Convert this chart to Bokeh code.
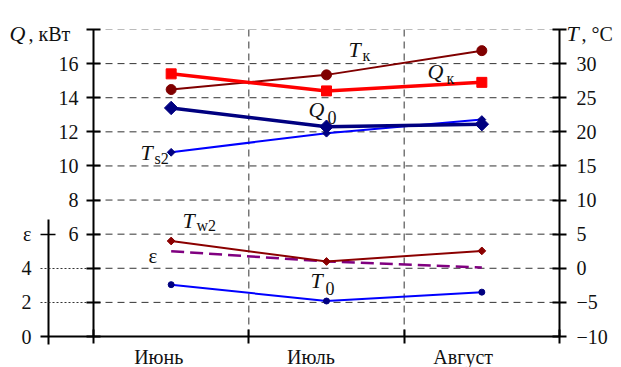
import math
from bokeh.plotting import figure
from bokeh.models import Range1d, LinearAxis, FixedTicker, Label
from bokeh.embed import file_html
from bokeh.resources import INLINE

# ---- data ----
months = ["Июнь", "Июль", "Август"]
month_pos = [0.5, 1.5, 2.5]
Q_k = [15.4, 14.4, 14.9]      # кВт
Q_0 = [13.4, 12.3, 12.45]     # кВт
T_k = [26.2, 28.35, 31.9]     # °C
T_s2 = [17.0, 19.8, 21.8]     # °C
T_w2 = [4.0, 1.0, 2.55]       # °C
T_0 = [-2.4, -4.8, -3.5]      # °C
eps = [5.0, 4.4, 4.05]
q_ticks = [0, 2, 4, 6, 8, 10, 12, 14, 16, 18]
t_ticks = [-10, -5, 0, 5, 10, 15, 20, 25, 30, 35]
eps_ticks = [0, 2, 4, 6]

# ---- layout constants ----
FONT = "Liberation Serif"
TICK_FS = "20px"
W, H = 621, 367
PX = 466 / 3            # pixels per month band
QPX = 307 / 18          # pixels per kW
FRAME_BOTTOM = 336      # pixel row of Q = 0
X_LEFT = -93 / PX
X_RIGHT = (W - 93) / PX
Q_TOP = FRAME_BOTTOM / QPX
Q_BOTTOM = -(H - FRAME_BOTTOM) / QPX
X_EPS = -45 / PX        # epsilon axis sits 45 px left of the Q axis
LABEL_SHIFT = [-0.08, -0.10, -0.12]

p = figure(width=W, height=H, x_range=Range1d(X_LEFT, X_RIGHT), y_range=Range1d(Q_BOTTOM, Q_TOP),
           output_backend="svg", toolbar_location=None,
           x_axis_type=None, y_axis_type=None,
           min_border_left=0, min_border_right=0, min_border_top=0, min_border_bottom=0)
p.outline_line_color = None
p.background_fill_color = "white"
p.border_fill_color = "white"
p.extra_y_ranges = {"T": Range1d(2.5 * Q_BOTTOM - 10, 2.5 * Q_TOP - 10)}


def make_axis(**kw):
    base = dict(axis_line_width=2, axis_line_color="black",
                major_tick_line_width=2, major_tick_line_color="black",
                minor_tick_line_color="black",
                major_label_text_font=FONT, major_label_text_font_size=TICK_FS,
                major_label_text_color="#111111")
    base.update(kw)
    return LinearAxis(**base)


# ---- grid (drawn from the tick arrays) ----
n_bands = len(months)
hq = q_ticks[1:-1]
p.segment(x0=[0] * len(hq), y0=hq, x1=[n_bands] * len(hq), y1=hq,
          line_color="#333333", line_dash="7 5", line_width=1, level="underlay")
p.segment(x0=[0], y0=[q_ticks[-1]], x1=[n_bands], y1=[q_ticks[-1]],
          line_color="#bbbbbb", line_dash="7 5", line_width=1, level="underlay")
vb = list(range(1, n_bands))
p.segment(x0=vb, y0=[0] * len(vb), x1=vb, y1=[q_ticks[-1]] * len(vb),
          line_color="#333333", line_dash="7 5", line_width=1, level="underlay")

# ---- axes ----
qax = make_axis(ticker=FixedTicker(ticks=q_ticks), fixed_location=0, bounds=(0, 18),
                major_label_overrides={0: "", 2: "", 4: "", 18: ""},
                major_tick_in=7, major_tick_out=7, major_label_standoff=8)
p.add_layout(qax, "left")

eax = make_axis(ticker=FixedTicker(ticks=eps_ticks), fixed_location=X_EPS,
                bounds=(-0.47, 6.86), major_label_overrides={6: "ε"},
                major_tick_line_color=None, major_tick_in=0, major_tick_out=8,
                major_label_standoff=9)
p.add_layout(eax, "left")
eax6 = make_axis(ticker=FixedTicker(ticks=[6]), fixed_location=X_EPS,
                 axis_line_color=None, major_label_text_color=None,
                 major_tick_in=7, major_tick_out=8, major_tick_line_width=1.5)
p.add_layout(eax6, "left")
eaxd = make_axis(ticker=FixedTicker(ticks=[2, 4]), fixed_location=X_EPS,
                 axis_line_color=None, major_label_text_color=None,
                 major_tick_in=38, major_tick_out=8, major_tick_line_width=1,
                 major_tick_line_dash="2 2", major_tick_line_color="#333333")
p.add_layout(eaxd, "left")

tax = make_axis(y_range_name="T", ticker=FixedTicker(ticks=t_ticks), fixed_location=n_bands,
                bounds=(-10, 35), major_label_overrides={35: ""},
                major_tick_in=7, major_tick_out=7, major_label_standoff=10)
p.add_layout(tax, "right")

label_pos = [m + s for m, s in zip(month_pos, LABEL_SHIFT)]
xax = make_axis(ticker=FixedTicker(ticks=label_pos, minor_ticks=[0, 1, 2, 3]),
                fixed_location=0,
                bounds=(X_EPS - 8 / PX, n_bands),
                major_label_overrides=dict(zip(label_pos, months)),
                major_tick_in=0, major_tick_out=0,
                minor_tick_in=7, minor_tick_out=7, minor_tick_line_width=2,
                major_label_standoff=2)
p.add_layout(xax, "below")

# ---- series ----
DIAM = math.pi / 4
p.line(month_pos, T_0, y_range_name="T", color="#0000ff", line_width=2)
p.scatter(month_pos, T_0, y_range_name="T", marker="circle", size=6, color="#000080")
p.line(month_pos, eps, color="#800080", line_width=2.5, line_dash="13 6")
p.line(month_pos, T_w2, y_range_name="T", color="#8b0000", line_width=2)
p.scatter(month_pos, T_w2, y_range_name="T", marker="square", angle=DIAM, size=5.5, color="#8b0000")
p.line(month_pos, T_s2, y_range_name="T", color="#0000ff", line_width=2)
p.scatter(month_pos, T_s2, y_range_name="T", marker="square", angle=DIAM, size=5.5, color="#000080")
p.line(month_pos, Q_0, color="#000080", line_width=3.5)
p.scatter(month_pos, Q_0, marker="square", angle=DIAM, size=9.5, color="#000080")
p.line(month_pos, T_k, y_range_name="T", color="#800000", line_width=2)
p.scatter(month_pos, T_k, y_range_name="T", marker="circle", size=10, color="#800000")
p.line(month_pos, Q_k, color="#ff0000", line_width=3.5)
p.scatter(month_pos, Q_k, marker="square", size=10, color="#ff0000")


def lab(x, y, text, size="22px", italic=False, baseline="middle"):
    p.add_layout(Label(x=x, y=y, text=text, text_font=FONT, text_font_size=size,
                       text_font_style="italic" if italic else "normal",
                       text_baseline=baseline, text_align="left", text_color="#111111"))


# series labels
lab(1.642, 16.82, "T", italic=True)
lab(1.732, 16.47, "к", size="16px")
lab(2.150, 15.53, "Q", italic=True)
lab(2.273, 15.12, "к", size="16px")
lab(1.384, 13.31, "Q", italic=True)
lab(1.506, 12.85, "0", size="18px")
lab(0.303, 10.80, "T", italic=True)
lab(0.393, 10.45, "s2", size="16px")
lab(0.573, 6.83, "T", italic=True)
lab(0.663, 6.48, "w2", size="16px")
lab(0.354, 4.73, "ε", size="21px")
lab(1.397, 3.27, "T", italic=True)
lab(1.494, 2.80, "0", size="18px")

# axis titles
TITLE_Y = (FRAME_BOTTOM - 33) / QPX
lab(-84 / PX, TITLE_Y, "Q", italic=True, baseline="alphabetic")
lab(-65 / PX, TITLE_Y, ", кВт", size="20px", baseline="alphabetic")
lab(3 + 7 / PX, TITLE_Y, "T", italic=True, baseline="alphabetic")
lab(3 + 22 / PX, TITLE_Y, ", °C", size="20px", baseline="alphabetic")

open("out.html", "w").write(file_html(p, INLINE))
